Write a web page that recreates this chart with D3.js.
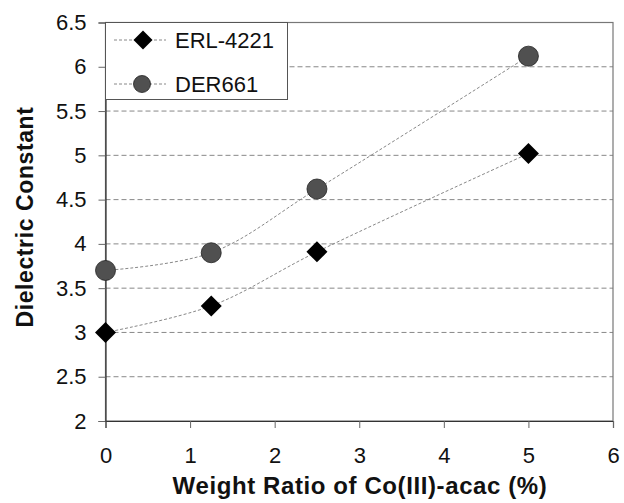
<!DOCTYPE html>
<html>
<head>
<meta charset="utf-8">
<script src="https://cdn.jsdelivr.net/npm/d3@7"></script>
<style>
    body { margin: 0; background: #fff; }
    svg { display: block; font-family: 'Liberation Sans', Arial, sans-serif; }
</style>
</head>
<body>
<div id="chart"></div>
<script>
// data
const ratios = [0, 1.25, 2.5, 5];
const erlValues = [3.0, 3.3, 3.91, 5.02];
const derValues = [3.7, 3.9, 4.62, 6.12];
const seriesNames = ['ERL-4221', 'DER661'];
const xTicks = [0, 1, 2, 3, 4, 5, 6];
const yTicks = [2, 2.5, 3, 3.5, 4, 4.5, 5, 5.5, 6, 6.5];

const width = 624;
const height = 503;
const margin = { top: 22.5, right: 11, bottom: 82, left: 105.5 };

const svg = d3.select('#chart').append('svg')
    .attr('width', width)
    .attr('height', height);

const x = d3.scaleLinear().domain([0, 6]).range([margin.left, width - margin.right]);
const y = d3.scaleLinear().domain([2, 6.5]).range([height - margin.bottom, margin.top]);

// gridlines
svg.append('g')
    .selectAll('line')
    .data(yTicks.filter((d) => d > 2 && d < 6.5))
    .enter()
    .append('line')
    .attr('x1', x(0))
    .attr('x2', x(6))
    .attr('y1', (d) => y(d))
    .attr('y2', (d) => y(d))
    .attr('stroke', '#888')
    .attr('stroke-width', 1)
    .attr('stroke-dasharray', '5,3');

// plot frame
svg.append('rect')
    .attr('x', x(0))
    .attr('y', y(6.5))
    .attr('width', x(6) - x(0))
    .attr('height', y(2) - y(6.5))
    .attr('fill', 'none')
    .attr('stroke', '#777')
    .attr('stroke-width', 1.2);

// axes
const xAxis = svg.append('g')
    .attr('transform', `translate(0, ${y(2)})`)
    .call(d3.axisBottom(x).tickValues(xTicks).tickSize(7).tickPadding(19).tickFormat(d3.format('d')));
const yAxis = svg.append('g')
    .attr('transform', `translate(${x(0)}, 0)`)
    .call(d3.axisLeft(y).tickValues(yTicks).tickSize(7).tickPadding(12).tickFormat((d) => d3.format('')(d)));

[xAxis, yAxis].forEach((a) => {
    a.select('.domain').attr('stroke', '#333').attr('stroke-width', 1.2);
    a.selectAll('.tick line').attr('stroke', '#666');
    a.selectAll('.tick text').attr('fill', '#111').style('font-size', '22px');
});

// axis titles
svg.append('text')
    .attr('x', 360)
    .attr('y', 494)
    .attr('text-anchor', 'middle')
    .style('font-size', '24px')
    .style('font-weight', 'bold')
    .style('letter-spacing', '0.6px')
    .attr('fill', '#111')
    .text('Weight Ratio of Co(III)-acac (%)');

svg.append('text')
    .attr('transform', 'translate(33, 217) rotate(-90)')
    .attr('text-anchor', 'middle')
    .style('font-size', '23px')
    .style('font-weight', 'bold')
    .style('letter-spacing', '0.6px')
    .attr('fill', '#111')
    .text('Dielectric Constant');

// series
const line = d3.line()
    .x((d) => x(d[0]))
    .y((d) => y(d[1]))
    .curve(d3.curveCatmullRom);

const erl = ratios.map((r, i) => [r, erlValues[i]]);
const der = ratios.map((r, i) => [r, derValues[i]]);

[erl, der].forEach((s) => {
    svg.append('path')
        .attr('d', line(s))
        .attr('fill', 'none')
        .attr('stroke', '#888')
        .attr('stroke-width', 1)
        .attr('stroke-dasharray', '3,2');
});

const diamond = (cx, cy, r) => `M${cx},${cy - r}L${cx + r},${cy}L${cx},${cy + r}L${cx - r},${cy}Z`;

svg.append('g')
    .selectAll('circle')
    .data(der)
    .enter()
    .append('circle')
    .attr('cx', (d) => x(d[0]))
    .attr('cy', (d) => y(d[1]))
    .attr('r', 10)
    .attr('fill', '#505050')
    .attr('stroke', '#222')
    .attr('stroke-width', 0.8);

svg.append('g')
    .selectAll('path')
    .data(erl)
    .enter()
    .append('path')
    .attr('d', (d) => diamond(x(d[0]), y(d[1]), 10.5))
    .attr('fill', '#000');

// legend
const legend = svg.append('g');
legend.append('rect')
    .attr('x', x(0))
    .attr('y', y(6.5))
    .attr('width', 182)
    .attr('height', 77)
    .attr('fill', '#fff')
    .attr('stroke', '#555')
    .attr('stroke-width', 1);

seriesNames.forEach((name, i) => {
    const ly = [40, 84][i];
    legend.append('line')
        .attr('x1', 114)
        .attr('x2', 166)
        .attr('y1', ly)
        .attr('y2', ly)
        .attr('stroke', '#888')
        .attr('stroke-dasharray', '3,2');
    if (i === 0) {
        legend.append('path').attr('d', diamond(143, ly, 9.5)).attr('fill', '#000');
    } else {
        legend.append('circle')
            .attr('cx', 142)
            .attr('cy', ly)
            .attr('r', 8.5)
            .attr('fill', '#505050')
            .attr('stroke', '#222')
            .attr('stroke-width', 0.8);
    }
    legend.append('text')
        .attr('x', 175)
        .attr('y', ly + 8)
        .style('font-size', '22px')
        .attr('fill', '#111')
        .text(name);
});
</script>
</body>
</html>
